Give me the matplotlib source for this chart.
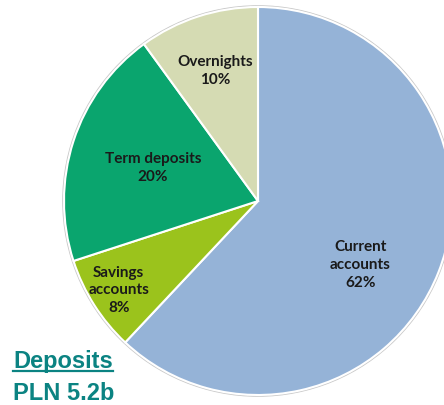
import numpy as np
import matplotlib
matplotlib.use("Agg")
import matplotlib.pyplot as plt
from matplotlib.lines import Line2D

# deposits structure, clockwise from 12 o'clock
labels = ["Current\naccounts", "Savings\naccounts", "Term deposits", "Overnights"]
shares = [62, 8, 20, 10]
colors = ["#95B3D7", "#9BC31C", "#0AA56E", "#D5DBB3"]
label_radius = [0.62, 0.85, 0.57, 0.71]
label_shift = [-10, 0, 0, 0]  # degrees, nudges label off the wedge middle
title_lines = ["Deposits", "PLN 5.2b"]

W, H, DPI = 444, 406, 100
fig = plt.figure(figsize=(W / DPI, H / DPI), dpi=DPI)
ax = fig.add_axes([0, 0, 1, 1])

# pie geometry in pixels
cx, cy, r = 258, 202, 194

wedges, _ = ax.pie(shares, colors=colors, startangle=90, counterclock=False,
                   radius=1.0, wedgeprops=dict(edgecolor="white", linewidth=1.5))

# pie() resets the limits, so set them afterwards
ax.set_xlim(-cx / r, (W - cx) / r)
ax.set_ylim(-(H - cy) / r, cy / r)
ax.set_aspect("equal")
ax.axis("off")

# faint grey rim like the original shadow
rim = plt.Circle((0, 0), 1.005, fill=False, edgecolor="#C8C8C8", linewidth=1.2, zorder=0)
ax.add_patch(rim)

for w, lab, s, rad, sh in zip(wedges, labels, shares, label_radius, label_shift):
    ang = np.deg2rad((w.theta1 + w.theta2) / 2 + sh)
    ax.text(rad * np.cos(ang), rad * np.sin(ang), "%s\n%d%%" % (lab, s),
            ha="center", va="center", fontsize=11, fontweight="bold",
            family=["Lato", "DejaVu Sans"], color="#1A1A1A", linespacing=1.35)

teal = "#0B8382"
t1 = fig.text(13 / W, 1 - 368 / H, title_lines[0], fontsize=17, fontweight="bold",
              family=["Liberation Sans", "DejaVu Sans"], color=teal, va="baseline")
t2 = fig.text(13 / W, 1 - 400 / H, title_lines[1], fontsize=17, fontweight="bold",
              family=["Liberation Sans", "DejaVu Sans"], color=teal, va="baseline")

fig.canvas.draw()
bb = t1.get_window_extent()
uy = 1 - 371.5 / H
fig.add_artist(Line2D([bb.x0 / W, bb.x1 / W], [uy, uy], color=teal, linewidth=1.6))

fig.savefig("out.png", dpi=DPI)
